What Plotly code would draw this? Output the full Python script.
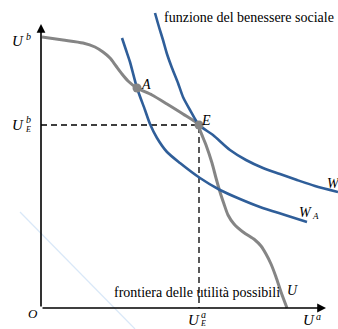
import plotly.graph_objects as go

# Utility space: U^a on the horizontal axis, U^b on the vertical axis.
# Utility possibility frontier U
frontier_ua = [1, 22, 42, 54, 62, 69, 75, 81, 87, 96, 111, 126, 142, 158,
               159, 165, 171, 175, 179, 183, 187, 193, 202, 214, 220, 225, 230, 235, 240, 246]
frontier_ub = [271, 268, 265, 261, 256, 250, 242, 234, 227, 220, 213, 204, 194, 183,
               178, 163, 145, 130, 116, 104, 93, 84, 76, 68, 62, 54, 44, 31, 16, 0]

# Social welfare indifference curves
wa_ua = [81, 85, 89, 96, 104, 109, 116, 126, 139, 159, 179, 199, 219, 244, 266]
wa_ub = [270, 258, 246, 220, 198, 184, 170, 156, 145, 130, 118, 109, 101, 93, 86]
we_ua = [114, 118, 122, 126, 131, 137, 142, 149, 158, 172, 189, 205, 222, 239, 256, 274, 297]
we_ub = [295, 281, 268, 254, 240, 225, 211, 198, 183, 173, 158, 148, 140, 134, 128, 122, 116]

# Points A (frontier meets W_A) and E (optimum, frontier tangent to W_E)
point_names = ["A", "E"]
point_ua = [96, 158]
point_ub = [220, 183]

# faint guide stroke in the lower-left corner
guide_ua = [-21, 94]
guide_ub = [96, -21]

BLUE = "#2f5e99"
GREY = "#858585"
SERIF = "Liberation Serif, 'Times New Roman', 'DejaVu Serif', serif"

fig = go.Figure()

fig.add_trace(go.Scatter(x=guide_ua, y=guide_ub, mode="lines",
                         line=dict(color="#d9e8f8", width=1.2), hoverinfo="skip"))

# dashed projections of E onto the axes
ua_e, ub_e = point_ua[1], point_ub[1]
fig.add_trace(go.Scatter(x=[0, ua_e, ua_e], y=[ub_e, ub_e, 0], mode="lines",
                         line=dict(color="black", width=1.3, dash="6px,4px"),
                         hoverinfo="skip"))

fig.add_trace(go.Scatter(x=frontier_ua, y=frontier_ub, mode="lines",
                         line=dict(color=GREY, width=3, shape="spline", smoothing=0.7),
                         hoverinfo="skip"))
fig.add_trace(go.Scatter(x=wa_ua, y=wa_ub, mode="lines",
                         line=dict(color=BLUE, width=2.6, shape="spline", smoothing=0.7),
                         hoverinfo="skip"))
fig.add_trace(go.Scatter(x=we_ua, y=we_ub, mode="lines",
                         line=dict(color=BLUE, width=2.6, shape="spline", smoothing=0.7),
                         hoverinfo="skip"))
fig.add_trace(go.Scatter(x=point_ua, y=point_ub, mode="markers",
                         marker=dict(color=GREY, size=9), hoverinfo="skip"))

# axes with arrow heads
x_end, y_end = 285, 284
fig.add_annotation(x=x_end, y=0, ax=0, ay=0, xref="x", yref="y", axref="x", ayref="y",
                   showarrow=True, arrowhead=2, arrowsize=1.1, arrowwidth=1.6,
                   arrowcolor="black", text="")
fig.add_annotation(x=0, y=y_end, ax=0, ay=0, xref="x", yref="y", axref="x", ayref="y",
                   showarrow=True, arrowhead=2, arrowsize=1.1, arrowwidth=1.6,
                   arrowcolor="black", text="")


def label(x, y, text, size=14, italic=True, anchor="center"):
    t = f"<i>{text}</i>" if italic else text
    fig.add_annotation(x=x, y=y, xref="x", yref="y", text=t, showarrow=False,
                       xanchor=anchor, yanchor="middle",
                       font=dict(family=SERIF, size=size, color="black"))


# stacked super/subscript labels built from separate pieces
label(-23, 267, "U", 15)
label(-13, 272, "b", 10)
label(-23, 183, "U", 15)
label(-13, 189, "b", 10)
label(-13, 179, "E", 8)
label(153, -12, "U", 15)
label(162, -6, "a", 10)
label(162, -15, "E", 8)
label(268, -12, "U", 15)
label(277, -8, "a", 10)
label(-8, -5, "O", 13)
label(105, 224, "A", 14)
label(165, 188, "E", 14)
label(251, 18, "U", 14)
label(264, 96, "W", 14)
label(274, 92, "A", 9)
label(284, 125, "W", 14, anchor="left")

label(121, 291, "funzione del benessere sociale", 14, italic=False, anchor="left")
label(156, 16, "frontiera delle utilità possibili", 14, italic=False)

fig.update_layout(
    width=338, height=329,
    margin=dict(l=0, r=0, t=0, b=0),
    paper_bgcolor="white", plot_bgcolor="white",
    showlegend=False,
    xaxis=dict(range=[-41, 297], visible=False, fixedrange=True),
    yaxis=dict(range=[-21, 308], visible=False, fixedrange=True),
)

fig.write_html("out.html")
